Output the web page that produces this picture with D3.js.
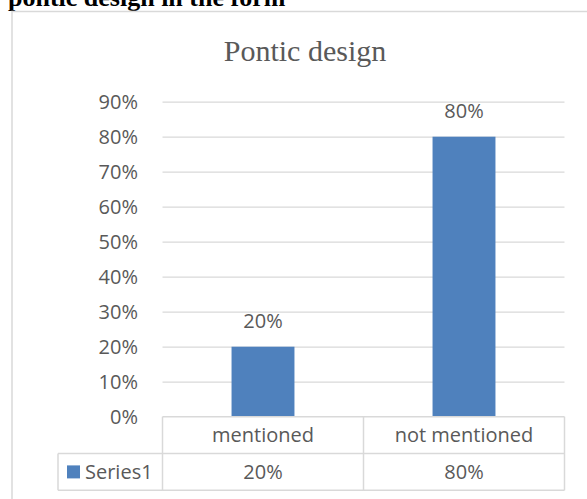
<!DOCTYPE html>
<html>
<head>
<meta charset="utf-8">
<script src="https://cdn.jsdelivr.net/npm/d3@7"></script>
<style>
  html, body { margin: 0; padding: 0; background: #ffffff; }
  svg { display: block; }
</style>
</head>
<body>
<svg id="chart" width="587" height="499"></svg>
<script>
// Chart content
const caption = "pontic design in the form";
const chartTitle = "Pontic design";
const categories = ["mentioned", "not mentioned"];
const seriesName = "Series1";
const seriesValues = [0.20, 0.80];
const yTicks = [0, 0.1, 0.2, 0.3, 0.4, 0.5, 0.6, 0.7, 0.8, 0.9];

const textColor = "#595959";
const gridColor = "#d9d9d9";
const barColor = "#4f81bd";
const uiFont = "'Open Sans', sans-serif";

const svg = d3.select("#chart");

// Plot geometry
const plot = { left: 162.5, right: 564.5, top: 101.7, bottom: 416.7 };
const table = { left: 58, rowH: 36.8 };

const y = d3.scaleLinear().domain([0, 0.9]).range([plot.bottom, plot.top]);
const xCell = d3.scaleBand().domain(categories).range([plot.left, plot.right]).padding(0);
const xBar = d3.scaleBand().domain(categories).range([plot.left, plot.right])
  .paddingInner(0.687).paddingOuter(0.3435);
const pct = d3.format(".0%");

// Caption above the chart frame (clipped at the top edge)
svg.append("text")
  .attr("x", 8).attr("y", 6)
  .attr("font-family", "'Liberation Serif', 'Times New Roman', serif")
  .attr("font-weight", "bold")
  .attr("font-size", 26)
  .attr("fill", "#000")
  .text(caption);

// Chart frame (left and top edges)
svg.append("path")
  .attr("d", "M12,499V11.5H587")
  .attr("fill", "none")
  .attr("stroke", gridColor)
  .attr("stroke-width", 1.5);

// Title
svg.append("text")
  .attr("x", 305).attr("y", 61)
  .attr("text-anchor", "middle")
  .attr("font-family", "'Liberation Serif', 'Times New Roman', serif")
  .attr("font-size", 30)
  .attr("fill", textColor)
  .text(chartTitle);

// Gridlines
const grid = svg.append("g")
  .attr("transform", `translate(${plot.left},0)`)
  .call(d3.axisLeft(y).tickValues(yTicks.slice(1))
    .tickSize(-(plot.right - plot.left)).tickFormat(""));
grid.select(".domain").remove();
grid.selectAll("line").attr("stroke", gridColor).attr("stroke-width", 1.2);

// Y axis labels
const yAxis = svg.append("g")
  .attr("transform", `translate(${plot.left},0)`)
  .call(d3.axisLeft(y).tickValues(yTicks).tickSize(0).tickPadding(24.5).tickFormat(pct));
yAxis.select(".domain").remove();
yAxis.selectAll("text")
  .attr("font-family", uiFont)
  .attr("font-size", 20)
  .attr("fill", textColor);

// Bars
const data = categories.map((c, i) => ({ cat: c, value: seriesValues[i] }));
svg.append("g").selectAll("rect")
  .data(data).join("rect")
  .attr("x", d => xBar(d.cat))
  .attr("width", xBar.bandwidth())
  .attr("y", d => y(d.value))
  .attr("height", d => y(0) - y(d.value))
  .attr("fill", barColor);

// Value labels above bars
svg.append("g").selectAll("text")
  .data(data).join("text")
  .attr("x", d => xBar(d.cat) + xBar.bandwidth() / 2)
  .attr("y", d => y(d.value) - 18.5)
  .attr("text-anchor", "middle")
  .attr("font-family", uiFont)
  .attr("font-size", 20)
  .attr("fill", textColor)
  .text(d => pct(d.value));

// Data table below the plot
const row1Top = plot.bottom;
const row2Top = row1Top + table.rowH;
const row2Bot = row2Top + table.rowH;
const tbl = svg.append("g")
  .attr("stroke", gridColor)
  .attr("stroke-width", 1.5)
  .attr("fill", "none");
tbl.append("line").attr("x1", plot.left).attr("x2", plot.right).attr("y1", row1Top).attr("y2", row1Top);
tbl.append("line").attr("x1", table.left).attr("x2", plot.right).attr("y1", row2Top).attr("y2", row2Top);
tbl.append("line").attr("x1", table.left).attr("x2", plot.right).attr("y1", row2Bot).attr("y2", row2Bot);
tbl.append("line").attr("x1", table.left).attr("x2", table.left).attr("y1", row2Top).attr("y2", row2Bot);
const cellEdges = categories.map(c => xCell(c)).concat([plot.right]);
tbl.selectAll(".vline").data(cellEdges).join("line")
  .attr("class", "vline")
  .attr("x1", d => d).attr("x2", d => d)
  .attr("y1", row1Top).attr("y2", row2Bot);

// Category names row
svg.append("g").selectAll("text")
  .data(categories).join("text")
  .attr("x", d => xCell(d) + xCell.bandwidth() / 2)
  .attr("y", (row1Top + row2Top) / 2)
  .attr("dy", "0.35em")
  .attr("text-anchor", "middle")
  .attr("font-family", uiFont)
  .attr("font-size", 20)
  .attr("fill", textColor)
  .text(d => d);

// Series values row
svg.append("g").selectAll("text")
  .data(data).join("text")
  .attr("x", d => xCell(d.cat) + xCell.bandwidth() / 2)
  .attr("y", (row2Top + row2Bot) / 2)
  .attr("dy", "0.35em")
  .attr("text-anchor", "middle")
  .attr("font-family", uiFont)
  .attr("font-size", 20)
  .attr("fill", textColor)
  .text(d => pct(d.value));

// Legend key in the table
svg.append("rect")
  .attr("x", 67).attr("y", (row2Top + row2Bot) / 2 - 6.5)
  .attr("width", 13).attr("height", 13)
  .attr("fill", barColor);
svg.append("text")
  .attr("x", 85)
  .attr("y", (row2Top + row2Bot) / 2)
  .attr("dy", "0.35em")
  .attr("font-family", uiFont)
  .attr("font-size", 20)
  .attr("fill", textColor)
  .text(seriesName);
</script>
</body>
</html>
